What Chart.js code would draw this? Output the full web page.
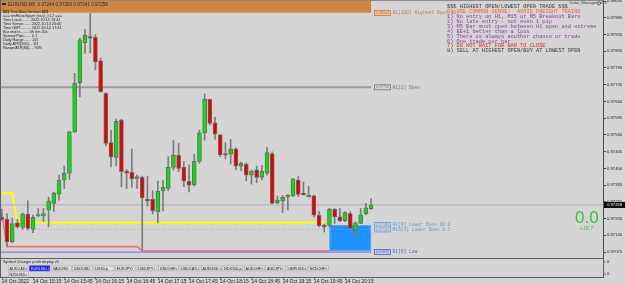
<!DOCTYPE html>
<html><head><meta charset="utf-8">
<script src="https://cdn.jsdelivr.net/npm/chart.js@4.4.0/dist/chart.umd.min.js"></script>
<style>html,body{margin:0;padding:0;background:#d4d4d4;overflow:hidden}canvas{display:block}</style>
</head><body>
<canvas id="c" width="625" height="284"></canvas>
<script>
const symbol = "EURUSD,M5";
const barTimes = ["14:45","14:50","14:55","15:00","15:05","15:10","15:15","15:20","15:25","15:30","15:35","15:40","15:45","15:50","15:55","16:00","16:05","16:10","16:15","16:20","16:25","16:30","16:35","16:40","16:45","16:50","16:55","17:00","17:05","17:10","17:15","17:20","17:25","17:30","17:35","17:40","17:45","17:50","17:55","18:00","18:05","18:10","18:15","18:20","18:25","18:30","18:35","18:40","18:45","18:50","18:55","19:00","19:05","19:10","19:15","19:20","19:25","19:30","19:35","19:40","19:45","19:50","19:55","20:00","20:05","20:10","20:15","20:20","20:25","20:30","20:35","20:40"];
const opens = [0.97210,0.97202,0.97115,0.97189,0.97171,0.97223,0.97163,0.97215,0.97215,0.97238,
0.97264,0.97300,0.97355,0.97381,0.97542,0.97733,0.97888,0.97910,0.97909,0.97818,
0.97692,0.97500,0.97443,0.97588,0.97390,0.97385,0.97359,0.97365,0.97280,0.97280,
0.97232,0.97313,0.97322,0.97404,0.97451,0.97404,0.97350,0.97336,0.97427,0.97538,
0.97668,0.97577,0.97530,0.97456,0.97455,0.97476,0.97409,0.97417,0.97374,0.97394,
0.97365,0.97381,0.97458,0.97267,0.97274,0.97288,0.97294,0.97355,0.97302,0.97290,
0.97293,0.97218,0.97180,0.97179,0.97241,0.97212,0.97197,0.97225,0.97160,0.97186,
0.97223,0.97244];
const highs = [0.97242,0.97225,0.97207,0.97202,0.97228,0.97274,0.97219,0.97245,0.97245,0.97288,
0.97308,0.97374,0.97409,0.97545,0.97769,0.97906,0.97940,0.98002,0.97919,0.97829,
0.97694,0.97549,0.97591,0.97591,0.97396,0.97475,0.97374,0.97370,0.97370,0.97313,
0.97351,0.97355,0.97445,0.97510,0.97498,0.97426,0.97414,0.97456,0.97549,0.97689,
0.97669,0.97598,0.97533,0.97500,0.97513,0.97480,0.97425,0.97422,0.97394,0.97409,
0.97412,0.97482,0.97464,0.97293,0.97296,0.97299,0.97361,0.97368,0.97347,0.97331,
0.97296,0.97232,0.97184,0.97245,0.97245,0.97245,0.97232,0.97232,0.97193,0.97245,
0.97264,0.97283];
const lows = [0.97199,0.97096,0.97111,0.97167,0.97163,0.97160,0.97150,0.97212,0.97193,0.97173,
0.97232,0.97277,0.97322,0.97357,0.97538,0.97678,0.97847,0.97848,0.97782,0.97696,
0.97487,0.97406,0.97409,0.97329,0.97322,0.97326,0.97322,0.97080,0.97254,0.97223,
0.97188,0.97235,0.97313,0.97394,0.97387,0.97329,0.97309,0.97331,0.97420,0.97510,
0.97568,0.97513,0.97445,0.97437,0.97417,0.97394,0.97391,0.97352,0.97339,0.97344,
0.97355,0.97374,0.97262,0.97262,0.97228,0.97238,0.97290,0.97290,0.97296,0.97288,
0.97212,0.97173,0.97153,0.97173,0.97186,0.97193,0.97193,0.97157,0.97137,0.97186,
0.97219,0.97241];
const closes = [0.97202,0.97115,0.97186,0.97173,0.97223,0.97167,0.97210,0.97220,0.97225,0.97274,
0.97305,0.97355,0.97381,0.97542,0.97730,0.97899,0.97918,0.97906,0.97814,0.97698,
0.97497,0.97445,0.97583,0.97387,0.97381,0.97359,0.97368,0.97285,0.97274,0.97235,
0.97311,0.97326,0.97404,0.97451,0.97400,0.97350,0.97335,0.97427,0.97538,0.97668,
0.97575,0.97533,0.97452,0.97452,0.97476,0.97409,0.97420,0.97374,0.97389,0.97365,
0.97389,0.97461,0.97264,0.97277,0.97288,0.97296,0.97359,0.97299,0.97298,0.97296,
0.97218,0.97177,0.97173,0.97241,0.97212,0.97197,0.97228,0.97167,0.97189,0.97220,
0.97247,0.97258];
const xTickTimes = ["14:45","15:15","15:45","16:15","16:45","17:15","17:45","18:15","18:45","19:15","19:45","20:15"];
const xTickText = ["14 Oct 2022","14 Oct 15:15","14 Oct 15:45","14 Oct 16:15","14 Oct 16:45","14 Oct 17:15","14 Oct 17:45","14 Oct 18:15","14 Oct 18:45","14 Oct 19:15","14 Oct 19:45","14 Oct 20:15"];
const yTickLabels = ["0.97075","0.97140","0.97205","0.97270","0.97335","0.97400","0.97465","0.97530","0.97595","0.97660","0.97725","0.97790","0.97855","0.97920","0.97985","0.98050"];

// price levels / objects
const levelHighestOpenH1 = 0.98004;
const levelOpenH1 = 0.97715;
const levelLowerOpenH1 = 0.97180;
const levelLowerOpenM15 = 0.97163;
const levelDayLow = 0.97075;
const objEndTime = "20:40";
const yellowTimes = ["14:45","14:55","15:00","19:55"];
const yellowValues = [0.97303,0.97303,0.97190,0.97190];
const redTimes = ["14:45","14:50","16:55","17:00","20:00"];
const redValues = [0.97225,0.97096,0.97096,0.97080,0.97080];
const dottedTimes = ["15:15","20:40"];
const zoneTimes = ["20:00","20:40"];
const zonePrices = [0.97180,0.97080];

const infoLines = ["$$$ TimeSlow Version $$$","=== smHLowSpam (ssa)_v1.2 ===","Time Local........ 2022.10.15 13:41","Time Server....... 2022.10.14 20:40","Time GMT.......... 2022.10.14 17:41","Bar end in........ 0h 0m 20s","Spread Pips....... 0.1","Daily Range....... 105","Daily ATR(200)... 111","Range/ATR(80).... 94%"];
const rulesLines = ["$$$ HIGHEST OPEN/LOWEST OPEN TRADE $$$","0) USE COMMON SENSE!  AVOID FREIGHT TRAINS","1) No entry on H1, M15 or M5 Breakout Bars","2) No late entry - not even 1 pip","3) M5 Bar must open between H1 open and extreme","4) BE+1 better than a loss","5) There is always another chance or trade","6) One trade per bar","7) DO NOT WAIT FOR BAR TO CLOSE","8) SELL AT HIGHEST OPEN/BUY AT LOWEST OPEN"];
const rulesColors = ["#3a3a3a","#f0603c","#8c3c9c","#8c3c9c","#8c3c9c","#8c3c9c","#8c3c9c","#8c3c9c","#f02828","#3a3a3a"];
const symbolButtons = ["AUDCAD.i","EURUSD.i","XAUUSD","USOUSD","US30.p","EURJPY.i","USDJPY.i","USDCHF.i","USDCAD.i","AUDUSD.i","NDX100.p","AUDCHF.i","AUDJPY.i","GBPUSD.i","NZDCHF.i"];
const symbolButtons2 = ["NZDUSD.i"];
const profitText = "0.0";
const profitSub = "+18.7";

const idx = t => barTimes.indexOf(t);
const upCol = '#00e400', dnCol = '#e80000';

const deco = {
  id: 'deco',
  beforeDraw(chart) {
    const c = chart.ctx;
    c.save(); c.fillStyle = '#d4d4d4'; c.fillRect(0, 0, chart.width, chart.height); c.restore();
  },
  beforeDatasetsDraw(chart) {
    const c = chart.ctx, a = chart.chartArea, x = chart.scales.x, y = chart.scales.y;
    c.save();
    c.beginPath(); c.rect(a.left, a.top, a.right - a.left, a.bottom - a.top); c.clip();
    const xe = x.getPixelForValue(idx(objEndTime));
    // orange highest-open block
    const yo = y.getPixelForValue(levelHighestOpenH1);
    c.fillStyle = '#cd853f';
    c.fillRect(a.left, a.top, xe - a.left, yo - a.top);
    c.fillStyle = '#e0a060';
    c.fillRect(a.left, yo - 1, xe - a.left, 1);
    // blue zone
    const zx0 = x.getPixelForValue(idx(zoneTimes[0])), zx1 = x.getPixelForValue(idx(zoneTimes[1]));
    const zy0 = y.getPixelForValue(zonePrices[0]), zy1 = y.getPixelForValue(zonePrices[1]);
    c.fillStyle = '#1e90ff';
    c.fillRect(zx0, zy0, zx1 - zx0, zy1 - zy0);
    c.strokeStyle = '#5aaaf0'; c.lineWidth = 1;
    c.strokeRect(zx0 + 0.5, zy0 + 0.5, zx1 - zx0 - 1, zy1 - zy0 - 1);
    c.restore();
  },
  afterDraw(chart) {
    const c = chart.ctx, a = chart.chartArea, x = chart.scales.x, y = chart.scales.y;
    c.save();
    c.textBaseline = 'middle';
    // frame lines
    c.fillStyle = '#8a8a8a';
    c.fillRect(0, 0, a.right, 1);
    c.fillStyle = '#606060';
    c.fillRect(0, 0, 1, 278);
    c.fillRect(0, a.bottom, a.right + 1, 1);
    c.fillRect(0, 277, a.right + 1, 1);
    c.fillRect(a.right, a.bottom, 1, 20);
    // title
    c.fillStyle = '#2a2a2a';
    c.fillRect(2, 3, 4, 2);
    c.font = '4.6px "Liberation Sans"';
    c.fillText(symbol + '  ' + [opens, highs, lows, closes].map(s => s[s.length - 1].toFixed(5)).join(' '), 8, 4.5);
    // info block
    c.font = '3.8px "Liberation Sans"';
    c.fillStyle = '#1e1e1e';
    infoLines.forEach((t, i) => c.fillText(t, 3, 11.8 + i * 4));
    // order manager
    c.font = '4px "Liberation Sans"'; c.fillStyle = '#404040';
    c.fillText('Order_Manager_v5.6', 569, 3.2);
    c.beginPath(); c.arc(599, 3.2, 1.6, 0, Math.PI * 2); c.strokeStyle = '#505050'; c.lineWidth = 0.8; c.stroke();
    // rules block
    c.font = '5.3px "Liberation Mono"';
    rulesLines.forEach((t, i) => { c.fillStyle = rulesColors[i]; c.fillText(t, 447, 6.7 + i * 4.92); });
    // level tags
    const xe = x.getPixelForValue(idx(objEndTime));
    const tag = (price, desc, col, fill) => {
      const py = y.getPixelForValue(price);
      c.fillStyle = fill; c.fillRect(xe + 3, py - 2.5, 16, 5);
      c.strokeStyle = col; c.lineWidth = 0.8; c.strokeRect(xe + 3.5, py - 2.5, 16, 5);
      c.font = '3.6px "Liberation Sans"'; c.fillStyle = col; c.fillText(price.toFixed(5), xe + 5, py + 0.2);
      c.font = '4.6px "Liberation Mono"'; c.fillText(desc, xe + 21.5, py + 0.2);
    };
    tag(levelHighestOpenH1, 'H1[100] Highest Open 10', '#c87832', '#e8c8a4');
    tag(levelOpenH1, 'H1[1] Open', '#7a7a7a', '#d4d4d4');
    tag(levelLowerOpenH1, 'H1[0] Lower Open 10.0', '#6a9ad0', '#d4d4d4');
    tag(levelLowerOpenM15, 'M15[3] Lower Open 8.5', '#6a9ad0', '#d4d4d4');
    tag(levelDayLow, 'D1[0] Low', '#5a5ad0', '#c8c8ec');
    // current price tag
    const bid = closes[closes.length - 1];
    const by = y.getPixelForValue(bid);
    c.fillStyle = '#000'; c.fillRect(a.right + 1, by - 3, 22, 6);
    c.fillStyle = '#fff'; c.font = '4.2px "Liberation Sans"'; c.fillText(bid.toFixed(5), a.right + 4, by + 0.2);
    // profit display
    c.fillStyle = '#34c834';
    c.font = '17px "Liberation Sans"';
    c.textBaseline = 'alphabetic';
    c.fillText(profitText, 575, 223);
    c.font = '5.5px "Liberation Sans"';
    c.fillText(profitSub, 579.5, 229.5);
    c.textBaseline = 'middle';
    // sub window
    c.fillStyle = '#1e1e1e';
    c.font = '3.8px "Liberation Sans"';
    c.fillText('Symbol Changer profit display v3', 3, 262.3);
    const btn = (t, bx, byy, sel) => {
      c.fillStyle = sel ? '#1a1ad8' : '#dedede';
      c.fillRect(bx, byy, 20.5, 5.5);
      c.strokeStyle = sel ? '#6060ff' : '#a8a8a8'; c.lineWidth = 0.6;
      c.strokeRect(bx + 0.3, byy + 0.3, 20, 5);
      c.fillStyle = sel ? '#e8e8ff' : '#202020';
      c.font = '3.8px "Liberation Sans"';
      c.fillText(t, bx + 1.5, byy + 2.9);
    };
    symbolButtons.forEach((t, i) => btn(t, 8 + i * 21.45, 265.6, t === 'EURUSD.i'));
    symbolButtons2.forEach((t, i) => btn(t, 8 + i * 21.45, 271.6, false));
    c.fillStyle = '#1e1e1e'; c.font = '4.2px "Liberation Sans"';
    c.fillText('0', a.right + 4, 261.8);
    c.fillText('0', a.right + 4, 274);
    c.fillStyle = '#505050';
    c.fillRect(a.right + 1, 261.5, 2, 0.8); c.fillRect(a.right + 1, 273.7, 2, 0.8);
    // time tick marks
    x.ticks.forEach(tk => { const px = Math.round(x.getPixelForValue(tk.value)); c.fillRect(px, 277, 0.8, 2.5); });
    c.restore();
  }
};

const lineDs = (data, color, width, extra) => Object.assign({
  type: 'line', data, borderColor: color, borderWidth: width, pointRadius: 0,
  tension: 0, fill: false, order: 10
}, extra || {});

const chart = new Chart(document.getElementById('c'), {
  type: 'bar',
  data: {
    datasets: [
      lineDs([{x: -1, y: levelOpenH1}, {x: idx(objEndTime), y: levelOpenH1}], '#9c9c9c', 2),
      lineDs([{x: -1, y: closes[closes.length - 1]}, {x: 200, y: closes[closes.length - 1]}], '#aeb0ba', 1),
      lineDs([{x: -1, y: levelDayLow}, {x: idx(objEndTime), y: levelDayLow}], '#6a6ad8', 1),
      lineDs(yellowTimes.map((t, i) => ({x: idx(t), y: yellowValues[i]})), '#ffff00', 2),
      lineDs(redTimes.map((t, i) => ({x: idx(t), y: redValues[i]})), '#f07474', 1.6),
      lineDs(dottedTimes.map(t => ({x: idx(t), y: levelLowerOpenM15})), '#90b4dc', 1, {borderDash: [1, 2]}),
      {
        type: 'bar', order: 2, grouped: false,
        data: barTimes.map((t, i) => ({x: i, y: [lows[i], highs[i]]})),
        backgroundColor: '#7c7c7c', barThickness: 1, minBarLength: 1
      },
      {
        type: 'bar', order: 1, grouped: false,
        data: barTimes.map((t, i) => ({x: i, y: [opens[i], closes[i]]})),
        backgroundColor: barTimes.map((t, i) => closes[i] >= opens[i] ? upCol : dnCol),
        borderColor: '#6a6a6a', borderWidth: 1, borderSkipped: false,
        barThickness: 4, minBarLength: 1.5
      }
    ]
  },
  options: {
    responsive: false, maintainAspectRatio: false, animation: false, devicePixelRatio: 1,
    layout: {padding: 0},
    plugins: {legend: {display: false}, tooltip: {enabled: false}},
    scales: {
      x: {
        type: 'linear', min: -0.35, max: 115.6, offset: false,
        grid: {display: false, drawTicks: false}, border: {display: false},
        afterBuildTicks: s => { s.ticks = xTickTimes.map(t => ({value: idx(t)})); },
        ticks: {
          autoSkip: false, maxRotation: 0, minRotation: 0, align: 'start', padding: 20.5,
          color: '#1e1e1e', font: {family: 'Liberation Sans', size: 5},
          callback: (v, i) => xTickText[i]
        },
        afterFit: s => { s.height = 26; s.paddingLeft = 0; s.paddingRight = 0; }
      },
      y: {
        position: 'right', min: 0.97052, max: 0.98054,
        grid: {display: true, drawOnChartArea: false, drawTicks: true, tickLength: 3, color: '#505050'},
        border: {display: true, color: '#505050'},
        afterBuildTicks: s => { s.ticks = yTickLabels.map(v => ({value: parseFloat(v)})); },
        ticks: {
          autoSkip: false, padding: 1, color: '#1e1e1e', font: {family: 'Liberation Sans', size: 4.2},
          callback: (v, i) => yTickLabels[i]
        },
        afterFit: s => { s.width = 22; s.paddingTop = 0; s.paddingBottom = 0; }
      }
    }
  },
  plugins: [deco]
});
</script>
</body></html>
